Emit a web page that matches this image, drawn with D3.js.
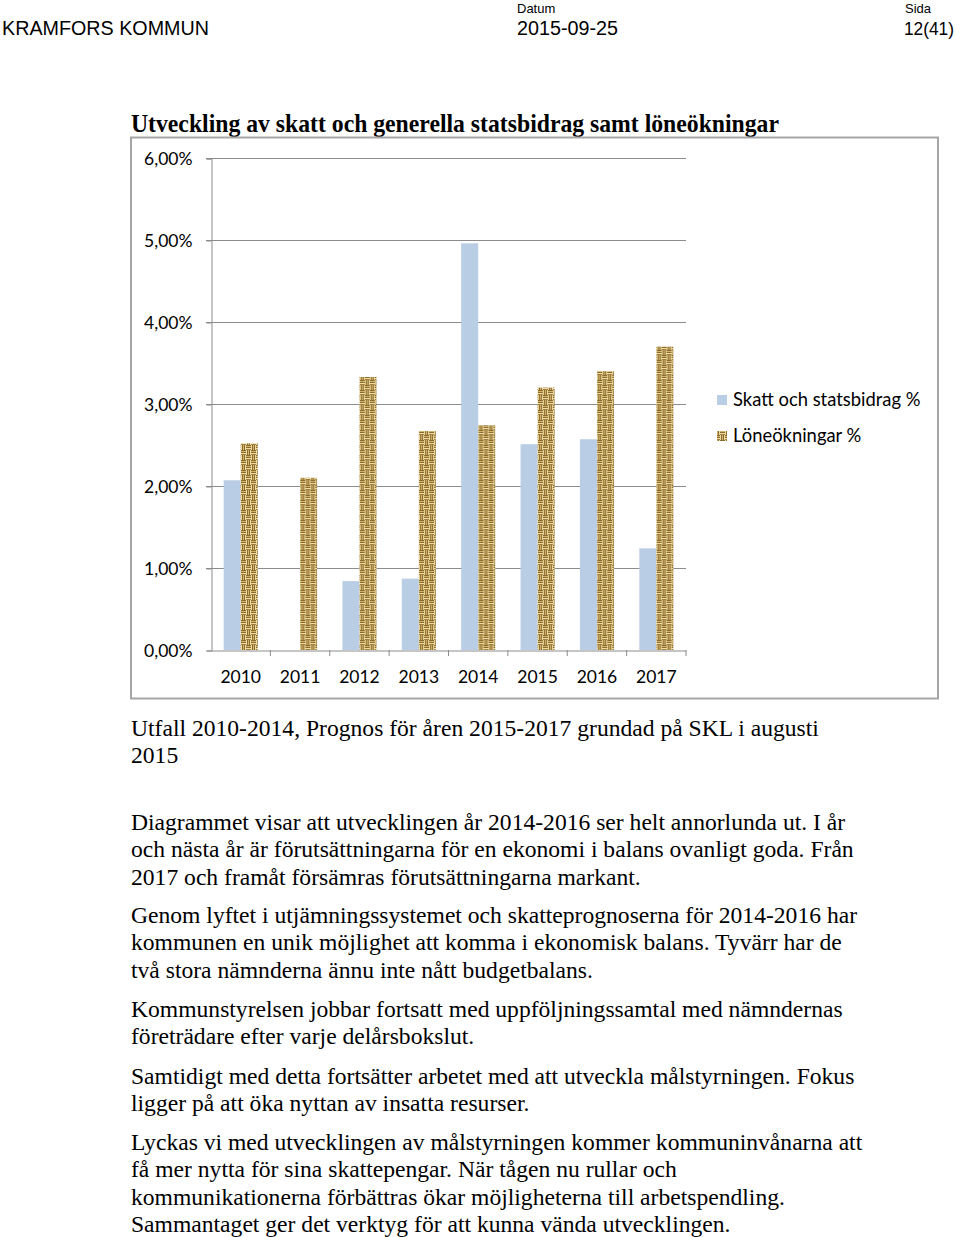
<!DOCTYPE html>
<html><head><meta charset="utf-8">
<script src="https://cdn.jsdelivr.net/npm/d3@7"></script>
<style>
body{margin:0;background:#fff;}
svg{display:block;}
</style></head>
<body>
<svg id="c" width="960" height="1237"></svg>
<script>
const years = ["2010","2011","2012","2013","2014","2015","2016","2017"];
const skatt = [2.07, 0, 0.84, 0.87, 4.96, 2.51, 2.57, 1.24];
const lone = [2.52, 2.10, 3.33, 2.67, 2.74, 3.20, 3.40, 3.70];
const seriesNames = ["Skatt och statsbidrag %", "Löneökningar %"];
const yTicks = [0, 1, 2, 3, 4, 5, 6];
const titleText = "Utveckling av skatt och generella statsbidrag samt löneökningar";
const captionLines = ["Utfall 2010-2014, Prognos för åren 2015-2017 grundad på SKL i augusti", "2015"];
const paragraphs = [
  ["Diagrammet visar att utvecklingen år 2014-2016 ser helt annorlunda ut. I år",
   "och nästa år är förutsättningarna för en ekonomi i balans ovanligt goda. Från",
   "2017 och framåt försämras förutsättningarna markant."],
  ["Genom lyftet i utjämningssystemet och skatteprognoserna för 2014-2016 har",
   "kommunen en unik möjlighet att komma i ekonomisk balans. Tyvärr har de",
   "två stora nämnderna ännu inte nått budgetbalans."],
  ["Kommunstyrelsen jobbar fortsatt med uppföljningssamtal med nämndernas",
   "företrädare efter varje delårsbokslut."],
  ["Samtidigt med detta fortsätter arbetet med att utveckla målstyrningen. Fokus",
   "ligger på att öka nyttan av insatta resurser."],
  ["Lyckas vi med utvecklingen av målstyrningen kommer kommuninvånarna att",
   "få mer nytta för sina skattepengar. När tågen nu rullar och",
   "kommunikationerna förbättras ökar möjligheterna till arbetspendling.",
   "Sammantaget ger det verktyg för att kunna vända utvecklingen."]
];

const svg = d3.select("#c");
const serif = "'Liberation Serif','Times New Roman',serif";
const sans = "'Liberation Sans',Arial,sans-serif";
const cal = "Lato,'Open Sans',sans-serif";

// header
svg.append("text").attr("x",2).attr("y",35).attr("font-family",sans).attr("font-size",20)
  .attr("textLength",207).attr("lengthAdjust","spacingAndGlyphs").text("KRAMFORS KOMMUN");
svg.append("text").attr("x",517).attr("y",13).attr("font-family",sans).attr("font-size",13).text("Datum");
svg.append("text").attr("x",517).attr("y",35).attr("font-family",sans).attr("font-size",20)
  .attr("textLength",101).attr("lengthAdjust","spacingAndGlyphs").text("2015-09-25");
svg.append("text").attr("x",905).attr("y",13).attr("font-family",sans).attr("font-size",13).text("Sida");
svg.append("text").attr("x",904).attr("y",35).attr("font-family",sans).attr("font-size",19)
  .attr("textLength",50).attr("lengthAdjust","spacingAndGlyphs").text("12(41)");

// title
svg.append("text").attr("x",131).attr("y",132).attr("font-family",serif).attr("font-weight","bold")
  .attr("font-size",25).attr("textLength",648).attr("lengthAdjust","spacingAndGlyphs").text(titleText);

// pattern
const defs = svg.append("defs");
const pat = defs.append("pattern").attr("id","burlap").attr("patternUnits","userSpaceOnUse")
  .attr("width",10).attr("height",10);
pat.append("rect").attr("width",10).attr("height",10).attr("fill","#f0dc9f");
[[0,0,5,1],[0,2,5,1],[0,4,5,0.8],[6,0,1,5],[8,0,1,5],[5,5,5,1],[5,7,5,1],[5,9,5,0.8],[1,5,1,5],[3,5,1,5]].forEach(r=>{
  pat.append("rect").attr("x",r[0]).attr("y",r[1]).attr("width",r[2]).attr("height",r[3]).attr("fill","#7d5d22").attr("opacity",0.9);
});
[[0,1,5,1],[7,0,1,5],[5,6,5,1],[2,5,1,5]].forEach(r=>{
  pat.append("rect").attr("x",r[0]).attr("y",r[1]).attr("width",r[2]).attr("height",r[3]).attr("fill","#d4b46a");
});

// chart frame
svg.append("rect").attr("x",131).attr("y",137.5).attr("width",807).attr("height",561)
  .attr("fill","none").attr("stroke","#a6a6a6").attr("stroke-width",2);

const x0 = d3.scaleBand().domain(years).range([211,686]).paddingInner(0).paddingOuter(0);
const x1 = d3.scaleBand().domain(seriesNames).range([0,x0.bandwidth()]).paddingInner(0).paddingOuter(0.745);
const y = d3.scaleLinear().domain([0,6]).range([650,158]);

// gridlines
svg.append("g").selectAll("line").data(yTicks.filter(d=>d>0)).join("line")
  .attr("x1",206).attr("x2",686).attr("y1",d=>y(d)+0.5).attr("y2",d=>y(d)+0.5)
  .attr("stroke","#8c8c8c").attr("stroke-width",1);

// y axis
const yAxis = d3.axisLeft(y).tickValues(yTicks).tickSize(5).tickFormat(d=>d.toFixed(2).replace(".",",")+"%");
const gy = svg.append("g").attr("transform","translate(211.5,0.5)").call(yAxis);
gy.select(".domain").attr("stroke","#8c8c8c");
gy.selectAll(".tick line").attr("stroke","#8c8c8c");
gy.selectAll(".tick text").attr("font-family",cal).attr("font-size",17.5).attr("fill","#000").attr("x",-19).attr("dy","0.35em");

// bars
const data = years.map((yr,i)=>({year:yr, vals:[{s:seriesNames[0],v:skatt[i]},{s:seriesNames[1],v:lone[i]}]}));
const g = svg.append("g");
g.selectAll("g").data(data).join("g").attr("transform",d=>`translate(${x0(d.year)},0)`)
  .selectAll("rect").data(d=>d.vals).join("rect")
  .attr("x",d=>x1(d.s)).attr("width",x1.bandwidth())
  .attr("y",d=>y(d.v)).attr("height",d=>y(0)-y(d.v))
  .attr("fill",d=>d.s===seriesNames[0]?"#b9cde5":"url(#burlap)");

// x axis
const xAxis = d3.axisBottom(x0).tickSize(0).tickSizeOuter(0);
const gx = svg.append("g").attr("transform","translate(0,650.5)").call(xAxis);
gx.select(".domain").attr("stroke","#8c8c8c");
gx.selectAll(".tick text").attr("font-family",cal).attr("font-size",17.5).attr("fill","#000").attr("dy","0.35em").attr("y",26);
svg.append("g").selectAll("line").data(years.slice(1).concat(["end"])).join("line")
  .attr("x1",d=>d==="end"?686:x0(d)).attr("x2",d=>d==="end"?686:x0(d))
  .attr("y1",650).attr("y2",656).attr("stroke","#8c8c8c");

// legend
const leg = svg.append("g");
seriesNames.forEach((s,i)=>{
  leg.append("rect").attr("x",717).attr("y",395+i*36).attr("width",10).attr("height",10)
    .attr("fill",i===0?"#b9cde5":"url(#burlap)");
  leg.append("text").attr("x",733).attr("y",400+i*36).attr("dy","0.35em").attr("font-family",cal).attr("font-size",18.4).text(s);
});

// caption & paragraphs
const fs = 23.6, lh = 27.3;
captionLines.forEach((t,i)=>{
  svg.append("text").attr("x",131).attr("y",736+i*lh).attr("font-family",serif).attr("font-size",fs).text(t);
});
const paraStarts = [830, 923, 1017, 1084, 1150];
paragraphs.forEach((p,pi)=>{
  p.forEach((t,i)=>{
    svg.append("text").attr("x",131).attr("y",paraStarts[pi]+i*lh).attr("font-family",serif).attr("font-size",fs).text(t);
  });
});
</script>
</body></html>
